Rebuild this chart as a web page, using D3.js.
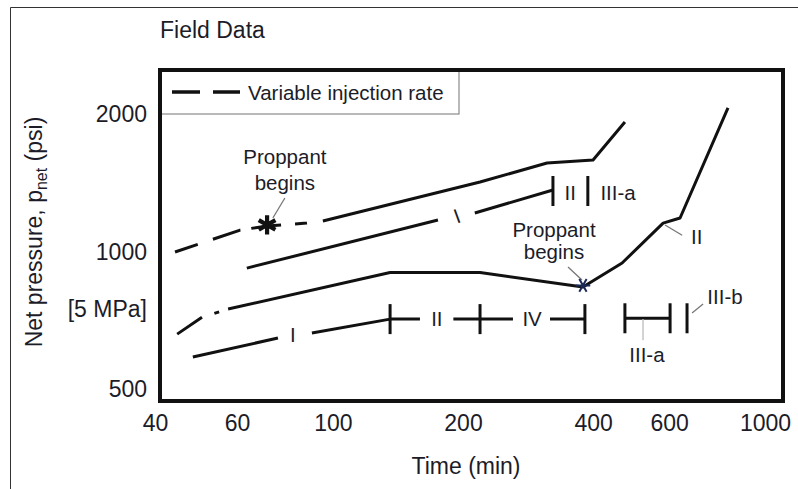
<!DOCTYPE html>
<html>
<head>
<meta charset="utf-8">
<script src="https://cdn.jsdelivr.net/npm/d3@7"></script>
<style>
  html, body { margin: 0; padding: 0; background: #fff; }
  svg { display: block; }
  text { font-family: "Liberation Sans", Arial, sans-serif; fill: #1c1c28; }
</style>
</head>
<body>
<svg id="chart" width="798" height="489"></svg>
<script>
// ---------- data ----------
const xTicks = [40, 60, 100, 200, 400, 600, 1000];
const yTicks = [500, 1000, 2000];
const yExtraTickLabels = ["[5 MPa]"];
const yExtraTickValues = [725];

// Curve A: variable injection rate (dashed start, then solid)
const curveADashTime = [43.1, 61, 70.4, 87, 94.8];
const curveADashP    = [1000, 1117, 1140, 1157, 1169];
const curveASolidTime = [94.8, 219, 313, 400, 474];
const curveASolidP    = [1169, 1423, 1566, 1590, 1926];

// Curve B (regimes I, II)
const curveBTime = [63.2, 175, null, 213, 323];
const curveBP    = [922, 1175, null, 1217, 1367];

// Curve C (dashed start, then solid; proppant begins at ~380 min)
const curveCDashTime = [43.6, 49.8, 57.2];
const curveCDashP    = [661, 720, 750];
const curveCSolidTime = [57.2, 135.6, 219, 379, 467, 581, 636, 821];
const curveCSolidP    = [750, 902, 902, 838, 946, 1157, 1187, 2067];

// Curve D (regimes I, II, IV)
const curveDTime = [47.4, 74.6, null, 89.4, 135.6, 159, null, 190, 219, 261, null, 318, 383];
const curveDP    = [589, 648, null, 665, 713, 713, null, 713, 713, 713, null, 713, 713];

// III-a bracket
const bracketTime = [474, 603];
const bracketP    = [716, 716];

// regime tick marks (vertical bars)
const regimeTickTime = [135.6, 219, 383, 474, 603, 660, 323, 389];
const regimeTickP    = [713, 713, 713, 716, 716, 716, 1360, 1360];

// proppant markers
const asteriskTime = [70.4, 379];
const asteriskP    = [1146, 845];

// annotation labels
const labelText = ["I", "II", "III-a", "Proppant", "begins", "Proppant", "begins", "II", "I", "II", "IV", "III-a", "III-b"];
const labelTime = [193.7, 354, 457, 77.4, 77.4, 324.8, 324.8, 695, 80.8, 174, 289, 533, 808];
const labelP    = [1199, 1347, 1347, 1614, 1416, 1117, 1000, 1079, 658, 713, 713, 595, 797];
const labelRot  = [-20, 0, 0, 0, 0, 0, 0, 0, 0, 0, 0, 0, 0];

// leader lines [t1, p1, t2, p2]
const leaderT1 = [77.4, 350, 587, 522, 678];
const leaderP1 = [1313, 927, 1146, 713, 735];
const leaderT2 = [72.6, 377, 643, 522, 719];
const leaderP2 = [1187, 868, 1088, 641, 769];

// ---------- layout ----------
const svg = d3.select("#chart");
const x = d3.scaleLog().domain([40, 1000]).range([161, 765]);
const y = d3.scaleLog().domain([500, 2000]).range([389.5, 114.5]);

const frame = { left: 160, top: 70, right: 783, bottom: 401 };
const ink = "#111";

// outer thin border (left + top)
svg.append("path")
  .attr("d", "M10.5,489 L10.5,7.5 L798,7.5")
  .attr("fill", "none").attr("stroke", "#333").attr("stroke-width", 1);

// title
svg.append("text").attr("x", 160).attr("y", 38)
  .attr("font-size", 23).text("Field Data");

// legend box
svg.append("rect")
  .attr("x", frame.left).attr("y", frame.top)
  .attr("width", 299).attr("height", 44)
  .attr("fill", "#fff").attr("stroke", "#8a8a8a").attr("stroke-width", 1.2);
svg.append("line")
  .attr("x1", 172).attr("x2", 240).attr("y1", 92).attr("y2", 92)
  .attr("stroke", ink).attr("stroke-width", 3.5)
  .attr("stroke-dasharray", "28,13");
svg.append("text").attr("x", 248).attr("y", 99.5)
  .attr("font-size", 20.5).text("Variable injection rate");

// plot frame
svg.append("rect")
  .attr("x", frame.left).attr("y", frame.top)
  .attr("width", frame.right - frame.left).attr("height", frame.bottom - frame.top)
  .attr("fill", "none").attr("stroke", ink).attr("stroke-width", 4);

// x axis labels
const xAxis = d3.axisBottom(x).tickValues(xTicks).tickFormat(d3.format("d")).tickSize(0).tickPadding(0);
const gx = svg.append("g").attr("transform", `translate(0,${frame.bottom + 14})`).call(xAxis);
gx.select(".domain").remove();
gx.selectAll("text").attr("font-size", 23).attr("dy", "0.71em")
  .attr("font-family", "Liberation Sans, Arial, sans-serif").attr("fill", "#1c1c28");
gx.selectAll(".tick").filter(d => d === 40).select("text").attr("dx", -6);

// y axis labels
const yAxis = d3.axisLeft(y).tickValues(yTicks.concat(yExtraTickValues))
  .tickFormat(d => { const i = yExtraTickValues.indexOf(d); return i >= 0 ? yExtraTickLabels[i] : d3.format("d")(d); })
  .tickSize(0).tickPadding(0);
const gy = svg.append("g").attr("transform", `translate(147,0)`).call(yAxis);
gy.select(".domain").remove();
gy.selectAll("text").attr("font-size", 23)
  .attr("font-family", "Liberation Sans, Arial, sans-serif").attr("fill", "#1c1c28");
gy.selectAll(".tick").filter(d => d === 725).attr("transform", `translate(0,${y(725) - 6})`);

// axis titles
svg.append("text").attr("x", 466).attr("y", 474).attr("text-anchor", "middle")
  .attr("font-size", 23).text("Time (min)");
const yt = svg.append("text").attr("transform", "translate(42,232) rotate(-90)")
  .attr("text-anchor", "middle").attr("font-size", 23);
yt.append("tspan").text("Net pressure, p");
yt.append("tspan").attr("font-size", 16).attr("dy", 5).text("net");
yt.append("tspan").attr("dy", -5).text(" (psi)");

// ---------- curves ----------
const zip = (ts, ps) => ts.map((t, i) => ({ t, p: ps[i] }));
const line = d3.line().defined(d => d.t != null).x(d => x(d.t)).y(d => y(d.p));

function drawPath(data, dash) {
  svg.append("path").datum(data).attr("d", line)
    .attr("fill", "none").attr("stroke", ink).attr("stroke-width", 3)
    .attr("stroke-linejoin", "round")
    .attr("stroke-dasharray", dash || null);
}
drawPath(zip(curveADashTime, curveADashP), "24,16,29,11,30,14,12,16");
drawPath(zip(curveASolidTime, curveASolidP));
drawPath(zip(curveBTime, curveBP));
drawPath(zip(curveCDashTime, curveCDashP), "30,13,5,10");
drawPath(zip(curveCSolidTime, curveCSolidP));
drawPath(zip(curveDTime, curveDP));
drawPath(zip(bracketTime, bracketP));

// regime ticks
svg.append("g").selectAll("line").data(zip(regimeTickTime, regimeTickP)).join("line")
  .attr("x1", d => x(d.t)).attr("x2", d => x(d.t))
  .attr("y1", d => y(d.p) - 15).attr("y2", d => y(d.p) + 15)
  .attr("stroke", ink).attr("stroke-width", 3);

// leaders
svg.append("g").selectAll("line").data(leaderT1.map((t, i) => i)).join("line")
  .attr("x1", i => x(leaderT1[i])).attr("y1", i => y(leaderP1[i]))
  .attr("x2", i => x(leaderT2[i])).attr("y2", i => y(leaderP2[i]))
  .attr("stroke", (i) => i === 3 ? "#bbb" : "#777").attr("stroke-width", 1.3);

// asterisks
const ast = zip(asteriskTime, asteriskP);
svg.append("path").attr("d", d3.symbol(d3.symbolAsterisk, 260)())
  .attr("transform", `translate(${x(ast[0].t)},${y(ast[0].p)})`)
  .attr("fill", "none").attr("stroke", ink).attr("stroke-width", 4.2);
svg.append("path").attr("d", d3.symbol(d3.symbolAsterisk, 150)())
  .attr("transform", `translate(${x(ast[1].t)},${y(ast[1].p)}) rotate(90)`)
  .attr("fill", "none").attr("stroke", "#1b2a55").attr("stroke-width", 2);

// labels
svg.append("g").selectAll("text").data(labelText.map((s, i) => i)).join("text")
  .attr("text-anchor", "middle")
  .attr("dy", "0.35em")
  .attr("font-size", 20.5)
  .attr("transform", i => `translate(${x(labelTime[i])},${y(labelP[i])}) rotate(${labelRot[i]})`)
  .text(i => labelText[i]);
</script>
</body>
</html>
